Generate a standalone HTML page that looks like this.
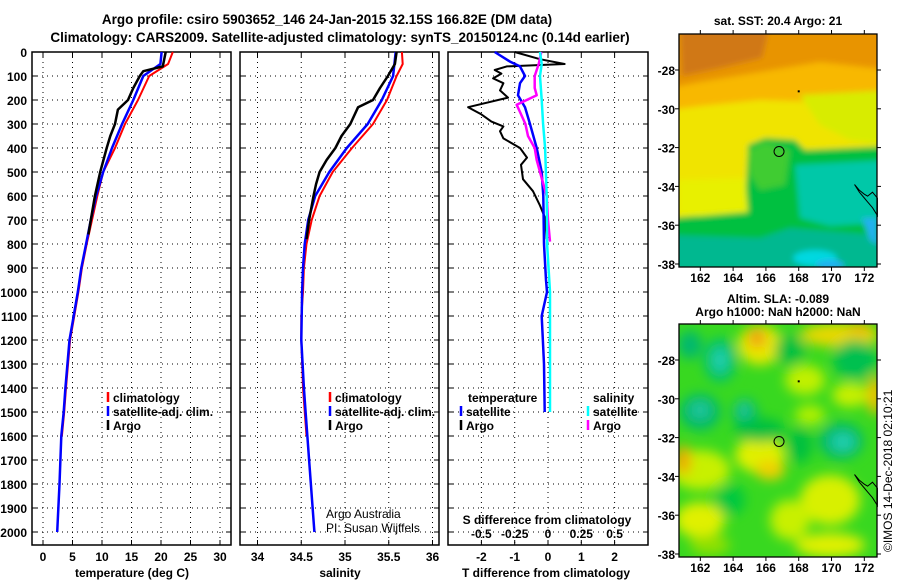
<!DOCTYPE html>
<html><head><meta charset="utf-8">
<style>
html,body{margin:0;padding:0;background:#fff;}
body{width:900px;height:580px;overflow:hidden;font-family:"Liberation Sans",sans-serif;}
svg text{font-family:"Liberation Sans",sans-serif;font-weight:bold;fill:#000;}
</style></head>
<body>
<svg id="fig" width="900" height="580" viewBox="0 0 900 580" xmlns="http://www.w3.org/2000/svg">
<defs>
<filter id="blur3" x="-20%" y="-20%" width="140%" height="140%"><feGaussianBlur stdDeviation="3"/></filter>
<filter id="blur6" x="-50%" y="-50%" width="200%" height="200%"><feGaussianBlur stdDeviation="6"/></filter>
<clipPath id="clipTop"><rect x="679" y="34" width="198" height="233"/></clipPath>
<clipPath id="clipBot"><rect x="679" y="324" width="198" height="233"/></clipPath>
</defs>
<text x="327" y="24" font-size="13.5" text-anchor="middle">Argo profile: csiro 5903652_146 24-Jan-2015 32.15S 166.82E (DM data)</text>
<text x="340" y="42" font-size="13.5" text-anchor="middle">Climatology: CARS2009. Satellite-adjusted climatology: synTS_20150124.nc (0.14d earlier)</text>
<g id="panels"></g>
<g id="maps"></g>
<text x="0" y="0" font-size="12" transform="translate(892,552) rotate(-90)" style="font-weight:normal">©IMOS 14-Dec-2018 02:10:21</text>
</svg>
<script>
// ---------- data ----------
const depthTicks=[0,100,200,300,400,500,600,700,800,900,1000,1100,1200,1300,1400,1500,1600,1700,1800,1900,2000];
const tempTicks=[0,5,10,15,20,25,30];
const salTicks=[34,34.5,35,35.5,36];
const tdiffTicks=[-2,-1,0,1,2];
const sdiffTickLabels=["-0.5","-0.25","0","0.25","0.5"];
const sdiffTicks=[-0.5,-0.25,0,0.25,0.5];

const climTdepth=[0,50,100,200,300,400,500,600,700,800,900,1000,1100,1200,1400,1500,1600];
const climTval=[22.0,21.2,18.0,16.1,13.9,12.2,10.2,9.2,8.3,7.4,6.6,6.0,5.3,4.6,3.9,3.6,3.2];
const satTdepth=[0,50,100,200,300,400,500,600,700,800,900,1000,1100,1200,1400,1500,1600,1800,2000];
const satTval=[20.1,19.9,17.0,15.3,13.4,11.7,10.2,9.0,8.1,7.3,6.5,5.9,5.2,4.5,3.8,3.5,3.1,2.8,2.4];
const argoTdepth=[0,60,80,100,150,200,240,300,350,400,500,600,700,760];
const argoTval=[20.8,20.3,17.0,16.4,15.3,14.4,12.7,12.2,11.4,10.8,9.7,8.8,8.1,7.7];

const climSdepth=[0,50,100,200,300,400,500,600,700,800,900,1000,1100,1200,1400,1600];
const climSval=[35.65,35.66,35.59,35.48,35.32,35.08,34.86,34.71,34.62,34.56,34.53,34.52,34.50,34.50,34.52,34.56];
const satSdepth=[0,100,200,300,400,500,600,700,800,900,1000,1200,1400,1500,1700,2000];
const satSval=[35.58,35.55,35.42,35.26,35.02,34.82,34.66,34.58,34.54,34.52,34.51,34.50,34.53,34.55,34.59,34.65];
const argoSdepth=[0,50,100,150,200,230,300,350,400,450,500,550,600,700,780];
const argoSval=[35.59,35.57,35.49,35.40,35.32,35.15,35.06,34.96,34.89,34.79,34.71,34.67,34.64,34.59,34.56];

const argoTdiffDepth=[0,30,50,60,75,90,110,130,160,190,230,260,290,310,330,360,400,440,470,530,580,640,690,780];
const argoTdiffVal=[-1.0,-0.24,0.5,-1.24,-1.6,-1.4,-1.65,-1.34,-1.44,-1.2,-2.4,-2.0,-1.7,-1.34,-1.44,-1.34,-0.84,-0.63,-0.81,-0.75,-0.45,-0.24,-0.09,-0.04];
const satTdiffDepth=[0,40,60,100,130,180,230,300,400,500,600,800,950,1000,1100,1300,1500];
const satTdiffVal=[-1.6,-1.14,-0.84,-0.69,-0.84,-0.9,-0.69,-0.54,-0.34,-0.19,-0.14,-0.12,-0.06,-0.03,-0.19,-0.12,-0.1];
const argoSdiffDepth=[0,50,100,150,180,220,250,300,350,400,450,500,600,700,790];
const argoSdiffVal=[-0.05,-0.07,-0.1,-0.1,-0.085,-0.235,-0.21,-0.17,-0.15,-0.1,-0.085,-0.06,-0.01,0.0,0.015];
const satSdiffDepth=[0,50,100,200,300,400,600,800,1000,1500];
const satSdiffVal=[-0.06,-0.047,-0.06,-0.047,-0.037,-0.022,-0.01,-0.007,0.015,0.015];

// ---------- helpers ----------
const NS="http://www.w3.org/2000/svg";
const panels=document.getElementById('panels');
function mk(tag,attrs,parent){const e=document.createElementNS(NS,tag);for(const k in attrs)e.setAttribute(k,attrs[k]);(parent||panels).appendChild(e);return e;}
const Y0=52,PY=0.24,YB=545;
const yD=d=>Y0+d*PY;
const xT=t=>43+t*5.9;
const xS=s=>257.5+(s-34)*87.5;
const xTd=t=>548+t*33.3;
const xSd=s=>548+s*133.2;

function frame(x0,x1,name){
  const g=mk('g',{});
  
  
  depthTicks.forEach(d=>{
    const l=mk('line',{x1:x0,x2:x1,y1:yD(d),y2:yD(d),stroke:'#000','stroke-width':1,'stroke-dasharray':'1,4'},g);
    
    
    mk('line',{x1:x0,x2:x0+5,y1:yD(d),y2:yD(d),stroke:'#000'},g);
    mk('line',{x1:x1-5,x2:x1,y1:yD(d),y2:yD(d),stroke:'#000'},g);
  });
  return g;
}
function vgrid(g,xs){
  xs.forEach(x=>{
    const l=mk('line',{x1:x,x2:x,y1:Y0,y2:YB,stroke:'#000','stroke-dasharray':'1,4'},g);
    
    
    mk('line',{x1:x,x2:x,y1:Y0,y2:Y0+5,stroke:'#000'},g);
    mk('line',{x1:x,x2:x,y1:YB-5,y2:YB,stroke:'#000'},g);
  });
}
function border(g,x0,x1){
  const r=mk('rect',{x:x0,y:Y0,width:x1-x0,height:YB-Y0,fill:'none',stroke:'#000','stroke-width':1.5},g);
  
  
}
function series(vals,depths,xf,color,w,name){
  let d='';
  for(let i=0;i<vals.length;i++){d+=(i?'L':'M')+xf(vals[i]).toFixed(1)+','+yD(depths[i]).toFixed(1);}
  const p=mk('path',{d:d,fill:'none',stroke:color,'stroke-width':w,'stroke-linejoin':'round'});
  
  
}
function txt(x,y,s,opts,name){
  const t=mk('text',Object.assign({x:x,y:y,'font-size':12},opts||{}));
  t.textContent=s;
  
  
  return t;
}
function legend(x,y,color,label,name){
  const l=mk('line',{x1:x,x2:x,y1:y-10,y2:y,stroke:color,'stroke-width':2.5});
  
  
  txt(x+5,y,label,{},name);
}

// ---------- panel 1 temperature ----------
let g1=frame(32,231,'temperature-panel');
vgrid(g1,tempTicks.map(xT));
depthTicks.forEach(d=>txt(27,yD(d)+5,String(d),{'text-anchor':'end'},'depth-tick-label'));
tempTicks.forEach(t=>txt(xT(t),561,String(t),{'text-anchor':'middle'},'temperature-tick-label'));
txt(132,577,'temperature (deg C)',{'text-anchor':'middle'},'x-axis-title-temperature');
series(climTval,climTdepth,xT,'#ff0000',2,'climatology-temperature-line');
series(satTval,satTdepth,xT,'#0000ff',2.5,'satellite-temperature-line');
series(argoTval,argoTdepth,xT,'#000000',2.5,'argo-temperature-line');
border(g1,32,231);
legend(108,402,'#ff0000','climatology','legend-climatology');
legend(108,416,'#0000ff','satellite-adj. clim.','legend-satellite');
legend(108,430,'#000000','Argo','legend-argo');

// ---------- panel 2 salinity ----------
let g2=frame(240,439,'salinity-panel');
vgrid(g2,salTicks.map(xS));
salTicks.forEach(s=>txt(xS(s),561,String(s),{'text-anchor':'middle'},'salinity-tick-label'));
txt(340,577,'salinity',{'text-anchor':'middle'},'x-axis-title-salinity');
series(climSval,climSdepth,xS,'#ff0000',2,'climatology-salinity-line');
series(satSval,satSdepth,xS,'#0000ff',2.5,'satellite-salinity-line');
series(argoSval,argoSdepth,xS,'#000000',2.5,'argo-salinity-line');
border(g2,240,439);
legend(330,402,'#ff0000','climatology','legend-climatology-2');
legend(330,416,'#0000ff','satellite-adj. clim.','legend-satellite-2');
legend(330,430,'#000000','Argo','legend-argo-2');
txt(326,518,'Argo Australia',{style:'font-weight:normal'},'credit-argo-australia');
txt(326,532,'PI: Susan Wijffels',{style:'font-weight:normal'},'credit-pi');

// ---------- panel 3 differences ----------
let g3=frame(448,648,'difference-panel');
vgrid(g3,tdiffTicks.map(xTd));
tdiffTicks.forEach(t=>txt(xTd(t),561,String(t),{'text-anchor':'middle'},'tdiff-tick-label'));
txt(546,577,'T difference from climatology',{'text-anchor':'middle'},'x-axis-title-tdiff');
series(argoTdiffVal,argoTdiffDepth,xTd,'#000000',2,'argo-tdiff-line');
series(satTdiffVal,satTdiffDepth,xTd,'#0000ff',2.5,'satellite-tdiff-line');
series(argoSdiffVal,argoSdiffDepth,xSd,'#ff00ff',2.5,'argo-sdiff-line');
series(satSdiffVal,satSdiffDepth,xSd,'#00ffff',2.5,'satellite-sdiff-line');
border(g3,448,648);
txt(468,402,'temperature',{},'legend-temperature-heading');
txt(593,402,'salinity',{},'legend-salinity-heading');
legend(461,416,'#0000ff','satellite','legend-tdiff-satellite');
legend(461,430,'#000000','Argo','legend-tdiff-argo');
legend(588,416,'#00ffff','satellite','legend-sdiff-satellite');
legend(588,430,'#ff00ff','Argo','legend-sdiff-argo');
txt(547,524,'S difference from climatology',{'text-anchor':'middle'},'sdiff-axis-title');
sdiffTicks.forEach((s,i)=>txt(xSd(s),538,sdiffTickLabels[i],{'text-anchor':'middle'},'sdiff-tick-label'));

// ---------- maps ----------
const maps=document.getElementById('maps');
const lonTicks=[162,164,166,168,170,172];
const latTicks=[-28,-30,-32,-34,-36,-38];
const floatLon=166.8, floatLat=-32.2;
const coastLon=[171.4,171.7,172.0,172.2,172.5,172.8,172.8,172.5,172.2,172.0,171.7,171.4];
const coastLat=[-33.9,-34.2,-34.4,-34.5,-34.3,-34.6,-35.5,-35.1,-34.8,-34.6,-34.3,-33.9];
function mapAxes(top,name){
  const x=lon=>679+(lon-160.7)*16.4;
  const y=lat=>top+36+(-28-lat)*19.4;
  const g=document.createElementNS(NS,'g');maps.appendChild(g);
  
  
  return {g,x,y};
}
function rect(g,x,y,w,h,fill){return mk('rect',{x,y,width:w,height:h,fill},g);}
function ell(g,cx,cy,rx,ry,fill){return mk('ellipse',{cx,cy,rx,ry,fill},g);}
function poly(g,pts,fill){return mk('polygon',{points:pts,fill},g);}

function finishMap(m,top,bottom){
  const {g,x,y}=m;
  let d='';coastLon.forEach((lo,i)=>{d+=(i?'L':'M')+x(lo).toFixed(1)+','+y(coastLat[i]).toFixed(1);});
  const c=mk('path',{d:d,fill:'none',stroke:'#000','stroke-width':1},g);
  
  
  const ci=mk('circle',{cx:x(floatLon),cy:y(floatLat),r:5,fill:'none',stroke:'#000','stroke-width':1},g);
  
  
  mk('rect',{x:x(168)-1,y:y(-29.1)-1,width:2,height:2,fill:'#000'},g);
  const fr=mk('rect',{x:679,y:top,width:198,height:bottom-top,fill:'none',stroke:'#000','stroke-width':1.3},g);
  
  
  lonTicks.forEach(lo=>{
    mk('line',{x1:x(lo),x2:x(lo),y1:top-4,y2:top,stroke:'#000'},g);
    mk('line',{x1:x(lo),x2:x(lo),y1:bottom,y2:bottom+4,stroke:'#000'},g);
    txt(x(lo),bottom+15,String(lo),{'text-anchor':'middle'},'longitude-tick-label');
  });
  latTicks.forEach(la=>{
    mk('line',{x1:675,x2:679,y1:y(la),y2:y(la),stroke:'#000'},g);
    mk('line',{x1:877,x2:881,y1:y(la),y2:y(la),stroke:'#000'},g);
    txt(675,y(la)+5,String(la),{'text-anchor':'end'},'latitude-tick-label');
  });
}

// SST map
let m1=mapAxes(34,'sst-map');
txt(778,25,'sat. SST: 20.4 Argo: 21',{'text-anchor':'middle'},'sst-map-title');
let s1=document.createElementNS(NS,'g');s1.setAttribute('clip-path','url(#clipTop)');m1.g.appendChild(s1);
rect(s1,679,34,198,233,'#00c040');
let sb=document.createElementNS(NS,'g');sb.setAttribute('filter','url(#blur3)');s1.appendChild(sb);
rect(sb,670,25,220,200,'#f0e400');
poly(sb,'670,25 890,25 890,105 820,102 760,100 700,106 670,110','#f8b800');
poly(sb,'670,25 890,25 890,70 820,62 760,72 700,82 670,88','#e89400');
poly(sb,'680,25 770,25 762,58 720,68 682,76','#d07818');
poly(sb,'800,95 890,90 890,145 850,140 820,125','#d8ec00');
poly(sb,'670,218 720,214 745,212 748,145 765,138 795,140 805,150 890,146 890,270 670,270','#00c040');
poly(sb,'748,150 765,142 790,150 785,185 760,190 750,175','#40cc30');
poly(sb,'678,180 745,178 748,212 700,216 678,214','#e8f000');
poly(sb,'795,165 890,160 890,222 830,226 800,218','#00c8a8');
poly(sb,'670,235 760,238 790,228 890,236 890,270 670,270','#00b890');
ell(sb,815,258,22,8,'#00d8e0');
ell(sb,830,265,14,5,'#20b0f0');
poly(sb,'862,218 877,218 877,245 870,240','#20b0f0');
finishMap(m1,34,267);

// SLA map
let m2=mapAxes(324,'sla-map');
txt(778,303,'Altim. SLA: -0.089',{'text-anchor':'middle'},'sla-map-title');
txt(778,316,'Argo h1000: NaN h2000: NaN',{'text-anchor':'middle'},'sla-map-subtitle');
let s2=document.createElementNS(NS,'g');s2.setAttribute('clip-path','url(#clipBot)');m2.g.appendChild(s2);
rect(s2,679,324,198,233,'#38d820');
let bb=document.createElementNS(NS,'g');bb.setAttribute('filter','url(#blur6)');s2.appendChild(bb);
[[700,470,30,20,'#c8f000'],[760,455,25,18,'#e0f000'],[830,500,30,25,'#d8f000'],[700,520,25,18,'#e0f000'],
 [830,545,35,12,'#e0f000'],[790,520,20,20,'#c8f000'],[760,345,22,20,'#e8e800'],[840,335,40,12,'#e8d800'],
 [875,395,8,20,'#f0c000'],[683,460,8,15,'#f0b000'],[770,470,15,10,'#f0d000'],[805,380,20,15,'#c0f000'],
 [850,395,18,12,'#c8f000'],[710,545,20,10,'#90e000'],[810,415,15,10,'#b0f000']].forEach(a=>ell(bb,...a));
[[720,360,16,22,'#00c070'],[700,412,20,18,'#00b870'],[745,413,12,14,'#00b870'],[841,441,22,18,'#00b870'],
 [690,345,12,14,'#00b870'],[855,360,22,20,'#00c050'],[790,350,15,15,'#00c040'],[760,430,25,12,'#00c040'],
 [730,500,15,15,'#00c840'],[800,445,12,18,'#00c040']].forEach(a=>ell(bb,...a));
[[720,360,8,12,'#20d0b0'],[700,410,10,8,'#20c8a0'],[744,410,6,8,'#20c8a0'],[843,442,12,9,'#20d0b0'],
 [757,338,9,10,'#f0a010'],[683,462,4,8,'#f0a000'],[860,328,12,6,'#f0b800']].forEach(a=>ell(bb,...a));
finishMap(m2,324,557);
</script>
</body></html>
